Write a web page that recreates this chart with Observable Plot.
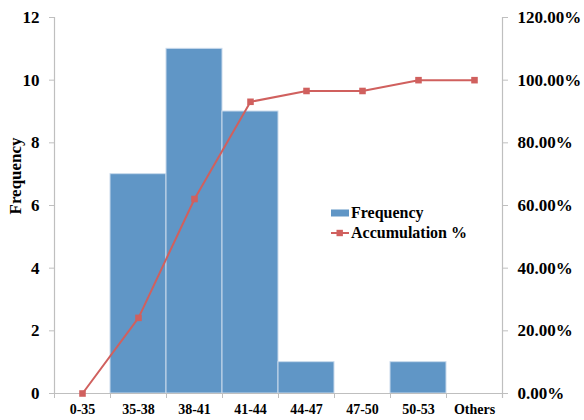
<!DOCTYPE html>
<html>
<head>
<meta charset="utf-8">
<script src="https://cdn.jsdelivr.net/npm/d3@7"></script>
<script src="https://cdn.jsdelivr.net/npm/@observablehq/plot@0.6"></script>
<style>
  body { margin: 0; background: #fff; }
  #wrap { position: relative; width: 584px; height: 420px; font-family: "Liberation Serif", "Times New Roman", serif; font-weight: bold; }
  #legend { position: absolute; left: 331px; top: 203px; font-size: 16px; line-height: 20px; color: #000; }
  #legend div { display: flex; align-items: center; }
  #legend svg { margin-right: 1px; }
</style>
</head>
<body>
<div id="wrap">
  <div id="chart"></div>
  <div id="legend"></div>
</div>
<script>
const categories = ["0-35", "35-38", "38-41", "41-44", "44-47", "47-50", "50-53", "Others"];
const frequency = [0, 7, 11, 9, 1, 0, 1, 0];
const accumulation = [0, 24.14, 62.07, 93.10, 96.55, 96.55, 100.00, 100.00];
const freqTicks = [0, 2, 4, 6, 8, 10, 12];
const pctTicks = [0, 20, 40, 60, 80, 100, 120];

const barColor = "#6096C6";
const lineColor = "#D0605E";
const axisColor = "#BFBFBF";
const font = "Liberation Serif";

const W = 584, H = 420, ML = 54, MR = 82, MT = 17, MB = 27;
const halfBand = (W - ML - MR) / categories.length / 2;
const freqMax = d3.max(freqTicks), pctMax = d3.max(pctTicks);

const bars = categories.map((c, i) => ({cat: c, freq: frequency[i]}));
const accum = categories.map((c, i) => ({cat: c, v: accumulation[i] * freqMax / pctMax}));

const chart = Plot.plot({
  width: W, height: H,
  marginLeft: ML, marginRight: MR, marginTop: MT, marginBottom: MB,
  style: {fontFamily: font, fontWeight: "bold", color: "#000", background: "#fff"},
  x: {type: "band", domain: categories, padding: 0, label: null},
  y: {domain: [0, freqMax], label: null},
  marks: [
    Plot.barY(bars, {x: "cat", y: "freq", fill: barColor, stroke: "#C9DAEC", strokeWidth: 1}),
    Plot.ruleY([0], {stroke: axisColor, strokeWidth: 1.2}),
    Plot.ruleX([categories[0]], {x: d => d, dx: -halfBand, stroke: axisColor, strokeWidth: 1.2}),
    Plot.ruleX([categories[categories.length - 1]], {x: d => d, dx: halfBand, stroke: axisColor, strokeWidth: 1.2, insetBottom: -5}),
    Plot.axisX({tickSize: 5, text: null, dx: -halfBand, stroke: axisColor, label: null}),
    Plot.axisX({tickSize: 0, tickPadding: 11, fontSize: 14, fontWeight: "bold", label: null}),
    Plot.axisY({anchor: "left", ticks: freqTicks, tickSize: 5, tickPadding: 10, stroke: axisColor, fontSize: 17, fontWeight: "bold", label: null, tickFormat: d => String(d)}),
    Plot.axisY({anchor: "right", ticks: freqTicks, tickSize: 5, tickPadding: 10, stroke: axisColor, fontSize: 17, fontWeight: "bold", label: null,
      tickFormat: d => pctTicks[freqTicks.indexOf(d)].toFixed(2) + "%"}),
    Plot.text(["Frequency"], {frameAnchor: "left", rotate: -90, dx: -39, dy: 9, fontSize: 17, fontWeight: "bold", fill: "#000"}),
    Plot.line(accum, {x: "cat", y: "v", stroke: lineColor, strokeWidth: 2}),
    Plot.dot(accum, {x: "cat", y: "v", symbol: "square", r: 3.7, fill: lineColor, stroke: "none"})
  ]
});
document.getElementById("chart").appendChild(chart);

const legendItems = [
  {label: "Frequency", swatch: `<svg width="19" height="8"><rect x="0" y="0.5" width="18" height="7" fill="${barColor}"/></svg>`},
  {label: "Accumulation %", swatch: `<svg width="19" height="8"><line x1="0" y1="4" x2="18" y2="4" stroke="${lineColor}" stroke-width="2"/><rect x="5.5" y="0.8" width="6.4" height="6.4" fill="${lineColor}"/></svg>`}
];
const legend = document.getElementById("legend");
legendItems.forEach(it => {
  const row = document.createElement("div");
  row.innerHTML = it.swatch + `<span>${it.label}</span>`;
  legend.appendChild(row);
});
</script>
</body>
</html>
